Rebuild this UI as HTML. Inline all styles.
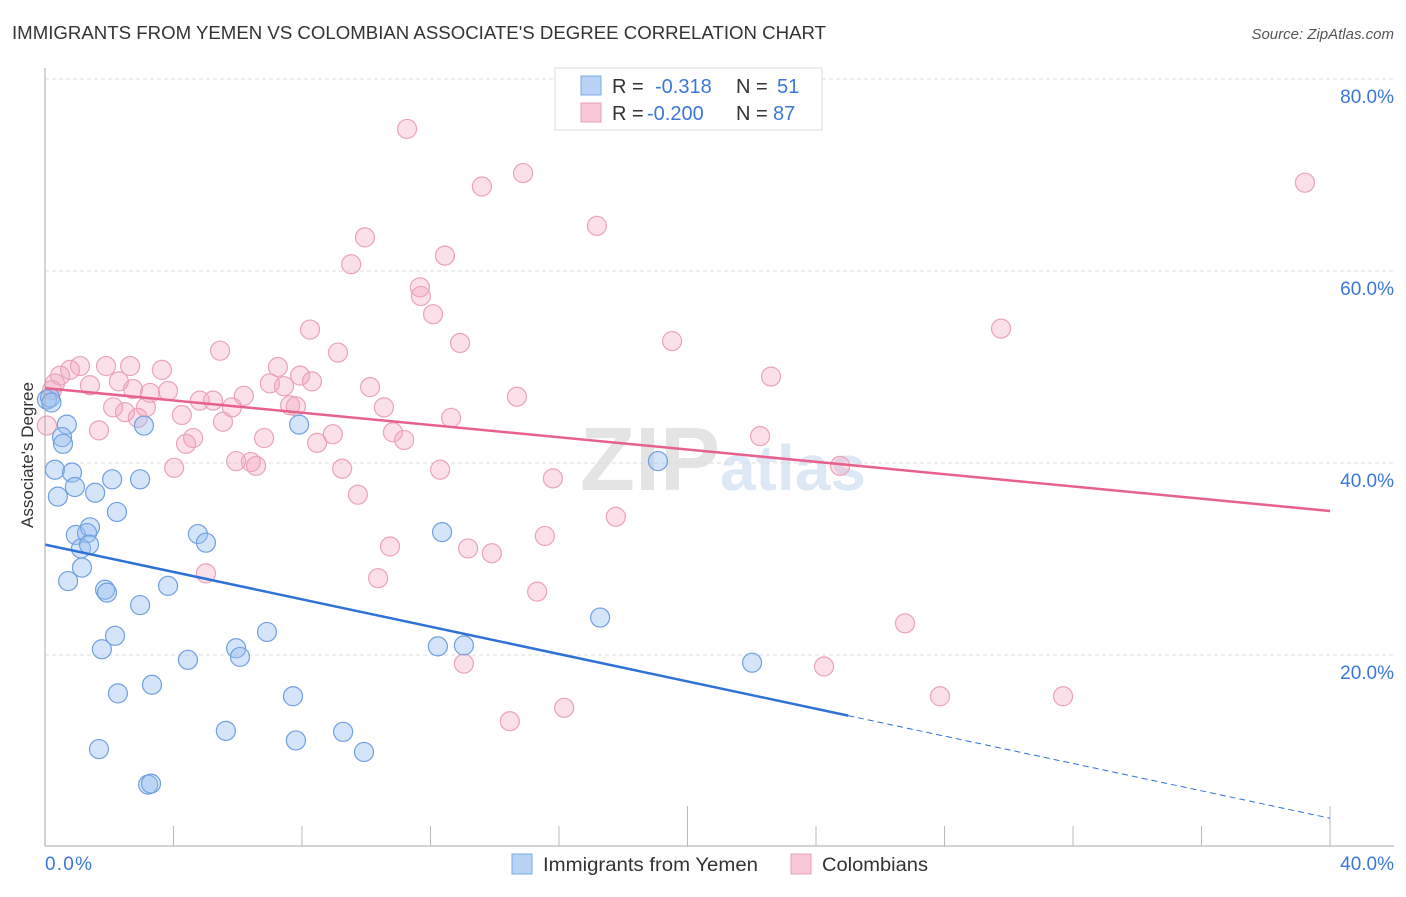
<!DOCTYPE html>
<html><head><meta charset="utf-8"><style>
body{margin:0;background:#fff;font-family:"Liberation Sans",sans-serif;}
svg text{font-family:"Liberation Sans",sans-serif;}
</style></head><body>
<svg id="chart" width="1406" height="892">
<text x="12" y="39" font-size="18" fill="#333" textLength="814" lengthAdjust="spacingAndGlyphs">IMMIGRANTS FROM YEMEN VS COLOMBIAN ASSOCIATE'S DEGREE CORRELATION CHART</text>
<text x="1394" y="39" font-size="15" fill="#555" font-style="italic" text-anchor="end">Source: ZipAtlas.com</text>
<text x="720" y="490" font-size="90" fill="#e4e4e4" text-anchor="end" font-family="Liberation Serif" font-weight="bold">ZIP</text>
<text x="720" y="490" font-size="64" fill="#dce8f5" font-weight="bold">atlas</text>
<g id="grid"></g><g id="pts"></g><g id="trend"></g>
<line x1="45" y1="68" x2="45" y2="846" stroke="#aaa"/>
<line x1="45" y1="846" x2="1394" y2="846" stroke="#aaa"/>
<text transform="translate(33,455) rotate(-90)" font-size="17" fill="#333" text-anchor="middle">Associate's Degree</text>
<text x="45" y="870" font-size="19" fill="#3b78d8" textLength="47">0.0%</text>
<text x="1394" y="870" font-size="19" fill="#3b78d8" text-anchor="end">40.0%</text>
<g>
<rect x="512" y="854" width="20" height="20" fill="#b9d3f5" stroke="#7aaae8"/>
<text x="543" y="871" font-size="19" fill="#333" textLength="215" lengthAdjust="spacingAndGlyphs">Immigrants from Yemen</text>
<rect x="791" y="854" width="20" height="20" fill="#f9c8d8" stroke="#e8a0b8"/>
<text x="822" y="871" font-size="19" fill="#333" textLength="106" lengthAdjust="spacingAndGlyphs">Colombians</text>
</g>
<g font-size="20">
<rect x="555" y="68" width="267" height="62" fill="#fff" stroke="#ddd"/>
<rect x="581" y="76" width="20" height="19" fill="#b9d3f5" stroke="#7aaae8"/>
<rect x="581" y="103" width="20" height="19" fill="#f9c8d8" stroke="#e8a0b8"/>
<text x="612" y="93" fill="#333">R =</text><text x="655" y="93" fill="#3b78d8">-0.318</text>
<text x="736" y="93" fill="#333">N =</text><text x="777" y="93" fill="#3b78d8">51</text>
<text x="612" y="120" fill="#333">R =</text><text x="647" y="120" fill="#3b78d8">-0.200</text>
<text x="736" y="120" fill="#333">N =</text><text x="773" y="120" fill="#3b78d8">87</text>
</g>
</svg>
<script>
const yTicks=[20,40,60,80];
const yTickLabels=["20.0%","40.0%","60.0%","80.0%"];
const blueX=[0.06,0.16,0.68,0.53,0.56,0.31,0.84,0.40,0.93,1.56,2.09,2.96,2.24,3.08,0.96,1.40,1.31,1.12,1.37,1.15,0.72,1.87,1.93,2.96,3.83,2.18,1.77,4.76,5.01,2.27,3.33,4.45,5.95,6.07,6.91,1.68,5.63,7.72,7.81,9.28,9.93,3.21,3.30,7.91,12.36,12.23,13.04,17.28,19.08,22.01,0.2];
const blueY=[46.6,46.8,44.0,42.7,42.0,39.3,39.0,36.5,37.5,36.9,38.3,38.3,34.9,43.9,32.5,33.3,32.7,31.1,31.5,29.1,27.7,26.8,26.5,25.2,27.2,22.0,20.6,32.6,31.7,16.0,16.9,19.5,20.7,19.8,22.4,10.2,12.1,15.7,11.1,12.0,9.9,6.5,6.6,44.0,32.8,20.9,21.0,23.9,40.2,19.2,46.3];
const pinkX=[11.27,13.60,14.88,39.22,17.18,9.96,12.45,9.53,11.67,11.70,12.08,8.25,29.76,12.92,19.52,5.45,9.12,7.25,3.64,2.65,1.90,1.09,0.78,0.47,0.31,0.22,0.06,1.40,2.30,7.00,7.44,7.94,8.31,10.12,14.69,22.60,3.27,3.83,4.82,5.23,6.19,2.12,2.49,3.14,2.89,4.26,5.82,7.63,7.81,10.55,12.64,1.68,4.39,4.61,5.54,6.82,8.96,8.47,10.83,11.18,22.26,5.95,6.41,6.57,4.02,9.25,12.30,15.81,9.74,17.77,15.56,10.74,13.17,13.91,5.01,10.37,15.32,26.77,24.25,13.04,27.86,31.69,16.16,14.47,24.75,2.74];
const pinkY=[74.8,68.8,70.2,69.2,64.7,63.5,61.6,60.7,58.3,57.4,55.5,53.9,54.0,52.5,52.7,51.7,51.5,50.0,49.7,50.1,50.1,50.1,49.7,49.1,48.3,47.6,43.9,48.1,48.5,48.3,48.0,49.1,48.5,47.9,46.9,49.0,47.3,47.5,46.5,46.5,47.0,45.8,45.3,45.8,44.7,45.0,45.8,46.0,45.9,45.8,44.7,43.4,42.0,42.6,44.3,42.6,43.0,42.1,43.2,42.4,42.8,40.2,40.1,39.7,39.5,39.4,39.3,38.4,36.7,34.4,32.4,31.3,31.1,30.6,28.5,28.0,26.6,23.3,18.8,19.1,15.7,15.7,14.5,13.1,39.7,47.7];
const blueTrend=[31.5,3.0]; const blueSolidEnd=25.0;
const pinkTrend=[47.8,35.0];
const NS="http://www.w3.org/2000/svg";
const sx=v=>45+v*32.125, sy=v=>847-v*9.6;
function mk(t,a,p){const e=document.createElementNS(NS,t);for(const k in a)e.setAttribute(k,a[k]);p.appendChild(e);return e;}
const grid=document.getElementById('grid');
yTicks.forEach((t,i)=>{
 const l=mk('line',{x1:45,x2:1394,y1:sy(t),y2:sy(t),stroke:'#ddd','stroke-dasharray':'4,3'},grid);
 
 
 const tx=mk('text',{x:1394,y:sy(t)+24,'font-size':19,fill:'#3b78d8','text-anchor':'end'},grid);
 tx.textContent=yTickLabels[i];
 
 
});
for(let i=1;i<=10;i++){
 const l=mk('line',{x1:sx(i*4),x2:sx(i*4),y1:(i==5||i==10)?806:826,y2:846,stroke:'#bbb'},grid);
 
 
}
const pts=document.getElementById('pts');
pinkX.forEach((x,i)=>{
 const c=mk('circle',{cx:sx(x),cy:sy(pinkY[i]),r:9.5,fill:'rgba(244,164,192,0.35)',stroke:'#eaa3bb','stroke-width':1.2},pts);
 
 
});
blueX.forEach((x,i)=>{
 const c=mk('circle',{cx:sx(x),cy:sy(blueY[i]),r:9.5,fill:'rgba(150,190,240,0.4)',stroke:'#6fa0e0','stroke-width':1.2},pts);
 
 
});
const tr=document.getElementById('trend');
const by=x=>blueTrend[0]+(blueTrend[1]-blueTrend[0])*x/40;
let l1=mk('line',{x1:sx(0),y1:sy(by(0)),x2:sx(blueSolidEnd),y2:sy(by(blueSolidEnd)),stroke:'#2f72d6','stroke-width':2.5},tr);


let l2=mk('line',{x1:sx(blueSolidEnd),y1:sy(by(blueSolidEnd)),x2:sx(40),y2:sy(by(40)),stroke:'#2f72d6','stroke-width':1,'stroke-dasharray':'6,4'},tr);


let l3=mk('line',{x1:sx(0),y1:sy(pinkTrend[0]),x2:sx(40),y2:sy(pinkTrend[1]),stroke:'#e8608e','stroke-width':2.5},tr);


</script>
</body></html>
